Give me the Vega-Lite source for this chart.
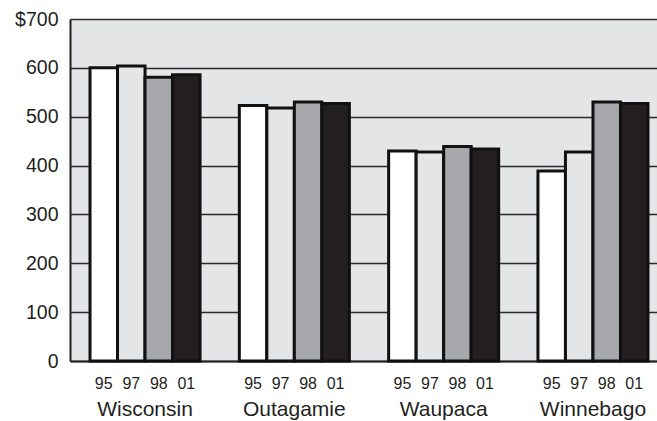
{
  "$schema": "https://vega.github.io/schema/vega-lite/v6.json",
  "autosize": "none",
  "width": 598,
  "height": 342,
  "padding": {"left": 70, "top": 19, "right": 0, "bottom": 60},
  "background": "white",
  "config": {
    "view": {"fill": "#e4e5e7", "stroke": null},
    "font": "Liberation Sans"
  },
  "data": {
    "values": [
      {"county": "Wisconsin", "year": "95", "cost": 600},
      {"county": "Wisconsin", "year": "97", "cost": 604},
      {"county": "Wisconsin", "year": "98", "cost": 581},
      {"county": "Wisconsin", "year": "01", "cost": 586},
      {"county": "Outagamie", "year": "95", "cost": 523},
      {"county": "Outagamie", "year": "97", "cost": 518},
      {"county": "Outagamie", "year": "98", "cost": 530},
      {"county": "Outagamie", "year": "01", "cost": 527},
      {"county": "Waupaca", "year": "95", "cost": 430},
      {"county": "Waupaca", "year": "97", "cost": 428},
      {"county": "Waupaca", "year": "98", "cost": 439},
      {"county": "Waupaca", "year": "01", "cost": 434},
      {"county": "Winnebago", "year": "95", "cost": 389},
      {"county": "Winnebago", "year": "97", "cost": 428},
      {"county": "Winnebago", "year": "98", "cost": 530},
      {"county": "Winnebago", "year": "01", "cost": 527}
    ]
  },
  "encoding": {
    "x": {
      "field": "county",
      "type": "nominal",
      "sort": ["Wisconsin", "Outagamie", "Waupaca", "Winnebago"],
      "scale": {"paddingInner": 0.263, "paddingOuter": 0.134},
      "axis": {
        "title": null,
        "labelAngle": 0,
        "labelFontSize": 21,
        "labelColor": "#231f20",
        "labelPadding": 37,
        "ticks": false,
        "domainColor": "#231f20",
        "domainWidth": 2
      }
    },
    "xOffset": {
      "field": "year",
      "type": "nominal",
      "sort": ["95", "97", "98", "01"],
      "scale": {"paddingInner": 0, "paddingOuter": 0}
    }
  },
  "layer": [
    {
      "mark": {"type": "bar", "stroke": "#111111", "strokeWidth": 3},
      "encoding": {
        "y": {
          "field": "cost",
          "type": "quantitative",
          "scale": {"domain": [0, 700], "nice": false},
          "axis": {
            "title": null,
            "values": [0, 100, 200, 300, 400, 500, 600, 700],
            "labelExpr": "datum.value == 700 ? '$700' : datum.label",
            "labelFontSize": 19.5,
            "labelColor": "#231f20",
            "labelPadding": 12,
            "ticks": false,
            "domainColor": "#231f20",
            "domainWidth": 2,
            "grid": true,
            "gridColor": "#2a2a2a",
            "gridWidth": 1.3
          }
        },
        "color": {
          "field": "year",
          "type": "nominal",
          "scale": {
            "domain": ["95", "97", "98", "01"],
            "range": ["#ffffff", "#e4e5e7", "#a7a8ab", "#231f20"]
          },
          "legend": null
        }
      }
    },
    {
      "mark": {"type": "text", "fontSize": 16, "color": "#231f20", "baseline": "middle", "dy": 23},
      "encoding": {
        "y": {"datum": 0, "type": "quantitative"},
        "text": {"field": "year"}
      }
    }
  ]
}
